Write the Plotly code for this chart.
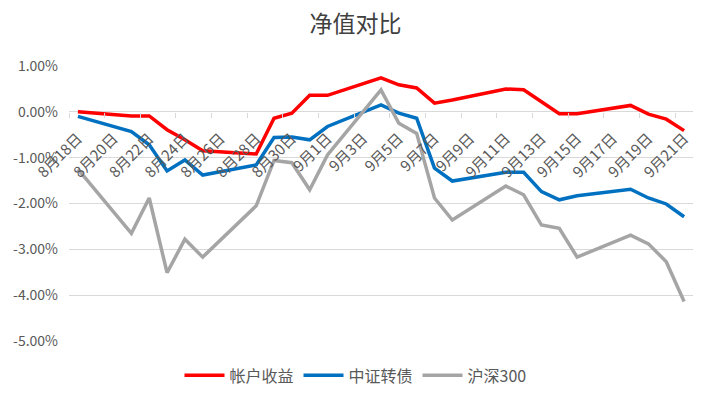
import plotly.graph_objects as go
import pandas as pd

dates = ["2023-08-18", "2023-08-21", "2023-08-22", "2023-08-23", "2023-08-24", "2023-08-25",
         "2023-08-28", "2023-08-29", "2023-08-30", "2023-08-31", "2023-09-01",
         "2023-09-04", "2023-09-05", "2023-09-06", "2023-09-07", "2023-09-08",
         "2023-09-11", "2023-09-12", "2023-09-13", "2023-09-14", "2023-09-15",
         "2023-09-18", "2023-09-19", "2023-09-20", "2023-09-21"]

account = [0.00, -0.09, -0.09, -0.39, -0.61, -0.85,
           -0.92, -0.14, -0.03, 0.36, 0.36,
           0.74, 0.59, 0.52, 0.19, 0.26,
           0.50, 0.48, 0.22, -0.04, -0.04,
           0.14, -0.05, -0.16, -0.41]

cb_index = [-0.10, -0.43, -0.72, -1.29, -1.05, -1.38,
            -1.16, -0.56, -0.55, -0.61, -0.32,
            0.15, -0.03, -0.14, -1.23, -1.51,
            -1.32, -1.32, -1.74, -1.92, -1.83,
            -1.69, -1.88, -2.01, -2.29]

hs300 = [-1.25, -2.65, -1.88, -3.51, -2.78, -3.17,
         -2.05, -1.06, -1.11, -1.70, -0.94,
         0.48, -0.25, -0.47, -1.88, -2.36,
         -1.62, -1.81, -2.47, -2.54, -3.17,
         -2.69, -2.88, -3.27, -4.14]

series_names = ["帐户收益", "中证转债", "沪深300"]
series_colors = ["#FF0000", "#0070C0", "#A5A5A5"]

y_ticks = [1, 0, -1, -2, -3, -4, -5]
y_ticktext = [f"{v:.2f}%" for v in y_ticks]

label_days = pd.date_range("2023-08-18", "2023-09-21", freq="2D")
x_ticktext = [f"{d.month}月{d.day}日" for d in label_days]
minor_days = pd.date_range("2023-08-17 12:00", "2023-09-21 12:00", freq="2D")

font_family = "Noto Sans CJK SC"

fig = go.Figure()
for name, vals, col in zip(series_names, [account, cb_index, hs300], series_colors):
    fig.add_trace(go.Scatter(x=dates, y=vals, mode="lines", name=name,
                             line=dict(color=col, width=3.5)))

fig.update_layout(
    width=711, height=399,
    margin=dict(l=69, r=18, t=66, b=58, autoexpand=False),
    paper_bgcolor="white", plot_bgcolor="white",
    font=dict(family=font_family, color="#595959", size=14),
    title=dict(text="净值对比", x=0.5, xanchor="center", y=0.94, yanchor="middle",
               font=dict(size=23, color="#404040", family=font_family)),
    showlegend=True,
    legend=dict(orientation="h", xref="container", x=0.5, xanchor="center",
                y=-0.125, yanchor="middle",
                font=dict(size=16, color="#595959"), itemwidth=40, tracegroupgap=0),
    xaxis=dict(type="date", range=["2023-08-17 12:00", "2023-09-21 12:00"],
               anchor="free", position=5/6, automargin=False,
               tickmode="array", tickvals=list(label_days), ticktext=x_ticktext,
               tickangle=-45, ticks="", showgrid=False, showline=False, zeroline=False,
               tickfont=dict(size=15, color="#595959"),
               ticklabelstandoff=14,
               minor=dict(tickmode="array", tickvals=list(minor_days), ticks="outside",
                          ticklen=5, tickcolor="#d9d9d9", showgrid=False)),
    yaxis=dict(range=[-5, 1], tickmode="array", tickvals=y_ticks, ticktext=y_ticktext,
               automargin=False,
               showgrid=True, gridcolor="#d9d9d9", gridwidth=1,
               zeroline=True, zerolinecolor="#d9d9d9", zerolinewidth=1,
               showline=False, ticks="", ticklabelstandoff=10,
               tickfont=dict(size=14, color="#595959")),
)

fig.write_html("out.html", config={"displayModeBar": False},
               post_script="document.body.style.margin='0';document.body.style.overflow='hidden';")
